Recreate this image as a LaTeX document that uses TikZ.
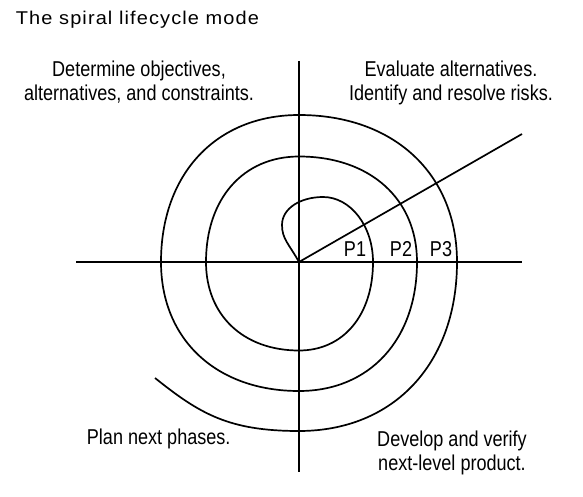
\documentclass[tikz,border=0pt]{standalone}
\usepackage{fontspec}
\setmainfont{Liberation Sans}
\newfontfamily\condfont[FakeStretch=0.84]{Liberation Sans}
\newfontfamily\titlefont[LetterSpace=6.0,FakeStretch=1.08]{Liberation Sans}

\begin{document}
\begin{tikzpicture}[x=1pt, y=-1pt, line width=1.7pt,
  phase/.style={font=\condfont\fontsize{21.5}{24}\selectfont, align=center, inner sep=0pt, anchor=base},
  plabel/.style={font=\condfont\fontsize{21.5}{24}\selectfont, inner sep=0pt, anchor=base}]
  \useasboundingbox (0,0) rectangle (583,497);
  \node[font=\titlefont\fontsize{18.5}{20}\selectfont, inner sep=0pt, anchor=base west] (title) at (15,24.3) {The spiral lifecycle mode};

  % axes and the diagonal
  \coordinate (O) at (299,262);
  \coordinate (N) at (299,61);
  \coordinate (S) at (299,472);
  \coordinate (W) at (76,262);
  \coordinate (E) at (522,262);
  \coordinate (D) at (522,134);
  \draw (W) -- (E);
  \draw (N) -- (S);
  \draw (O) -- (D);

  % spiral, quarter by quarter
  \draw (O) .. controls +(-10,-18) and +(0,14) .. (282,225)
            .. controls +(0,-17) and +(-22,0) .. (323,197)
            .. controls +(27.5,0) and +(0,-36) .. (373,262)
            .. controls +(0,53.1) and +(44.4,0) .. (299,350.5)
            .. controls +(-55.8,0) and +(0,53.1) .. (206,262)
            .. controls +(0,-63.3) and +(-55.8,0) .. (299,156.5)
            .. controls +(70.8,0) and +(0,-63.3) .. (417,262)
            .. controls +(0,77.4) and +(70.8,0) .. (299,391)
            .. controls +(-82.8,0) and +(0,77.4) .. (161,262)
            .. controls +(0,-88.2) and +(-82.8,0) .. (299,115)
            .. controls +(94.8,0) and +(0,-88.2) .. (457,262)
            .. controls +(0,101.4) and +(94.8,0) .. (299,431)
            .. controls +(-70,0) and +(45,36) .. (155,378);

  % phase labels
  \node[plabel] (p1) at (355,256.7) {P1};
  \node[plabel] (p2) at (401,256.7) {P2};
  \node[plabel] (p3) at (441,256.7) {P3};

  % quadrant texts (base = last line)
  \node[phase] (objectives) at (139,101) {Determine objectives,\\alternatives, and constraints.};
  \node[phase] (risks) at (451,101) {Evaluate alternatives.\\Identify and resolve risks.};
  \node[phase] (plan) at (158.7,444) {Plan next phases.};
  \node[phase] (develop) at (452,470) {Develop and verify\\next-level product.};
\end{tikzpicture}
\end{document}
